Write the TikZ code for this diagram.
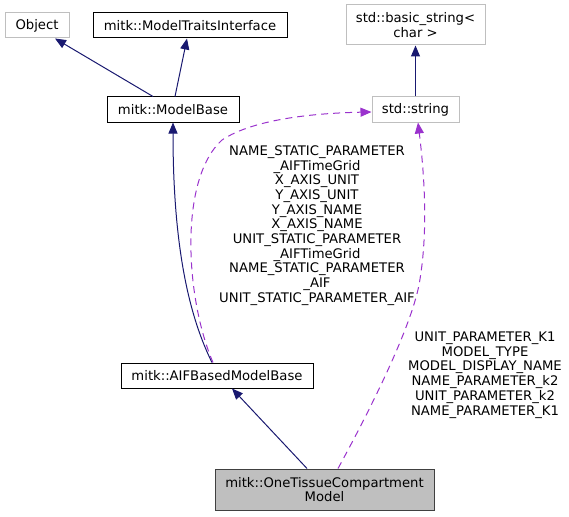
\documentclass[tikz,border=0pt]{standalone}
\usepackage{fontspec}
\setmainfont{DejaVu Sans}
\usetikzlibrary{arrows.meta}
\definecolor{edgeblue}{RGB}{25,25,112}
\definecolor{edgepurple}{RGB}{154,50,205}
\definecolor{boxgray}{RGB}{191,191,191}
\definecolor{boxdark}{RGB}{64,64,64}
\tikzset{
  cls/.style={draw=black, line width=1pt, fill=white, inner sep=0pt, minimum height=25pt,
    font=\fontsize{13.2}{14.7}\selectfont, align=center},
  ext/.style={cls, draw=boxgray},
  cur/.style={cls, draw=boxdark, fill=boxgray},
  inh/.style={draw=edgeblue, line width=1pt, -{Triangle[length=11pt,width=9pt,fill=edgeblue]}},
  use/.style={draw=edgepurple, line width=1pt, dash pattern=on 7pt off 5pt, -{Triangle[length=11pt,width=9pt,fill=edgepurple]}},
  lbl/.style={font=\fontsize{13.2}{14.7}\selectfont, align=center, inner sep=0pt}
}
\begin{document}
\begin{tikzpicture}[x=1pt,y=-1pt]
\useasboundingbox (0,0) rectangle (569,516);
\node[ext, minimum width=64pt] (obj) at (37,25.5) {Object};
\node[cls, minimum width=194pt] (mti) at (190,25.5) {mitk::ModelTraitsInterface};
\node[ext, minimum width=139pt, minimum height=40pt] (bs) at (415.5,25) {std::basic\_string\textless\\char \textgreater};
\node[cls, minimum width=132pt] (mb) at (173,109.5) {mitk::ModelBase};
\node[ext, minimum width=87pt] (ss) at (415.5,109.5) {std::string};
\node[cls, minimum width=192pt] (aif) at (217,375.5) {mitk::AIFBasedModelBase};
\node[cur, minimum width=219pt, minimum height=41pt] (ot) at (324.5,489.5) {mitk::OneTissueCompartment\\Model};

\draw[inh] ([xshift=-20pt]mb.north) -- ([xshift=18pt]obj.south);
\draw[inh] ([xshift=2pt]mb.north) -- ([xshift=-3pt]mti.south);
\draw[inh] (ss.north) -- (bs.south);
\draw[inh] ([xshift=-5pt]aif.north) .. controls (190,318) and (173,250) .. (mb.south);
\draw[use] ([xshift=-4pt]aif.north) .. controls (186,300) and (178,180) .. (222,140)
   .. controls (255,118) and (320,113) .. ([yshift=-2.5pt]ss.west);
\draw[inh] ([xshift=-17.5pt]ot.north) -- ([xshift=15pt]aif.south);
\draw[use] ([xshift=13.5pt]ot.north) .. controls (370,410) and (410,330) .. (419,285)
   .. controls (428,235) and (425,180) .. ([xshift=2.5pt]ss.south);

\node[lbl] (l1) at (317,225.5) {NAME\_STATIC\_PARAMETER\\\_AIFTimeGrid\\X\_AXIS\_UNIT\\Y\_AXIS\_UNIT\\Y\_AXIS\_NAME\\X\_AXIS\_NAME\\UNIT\_STATIC\_PARAMETER\\\_AIFTimeGrid\\NAME\_STATIC\_PARAMETER\\\_AIF\\UNIT\_STATIC\_PARAMETER\_AIF};
\node[lbl] (l2) at (485,375) {UNIT\_PARAMETER\_K1\\MODEL\_TYPE\\MODEL\_DISPLAY\_NAME\\NAME\_PARAMETER\_k2\\UNIT\_PARAMETER\_k2\\NAME\_PARAMETER\_K1};
\end{tikzpicture}
\end{document}
